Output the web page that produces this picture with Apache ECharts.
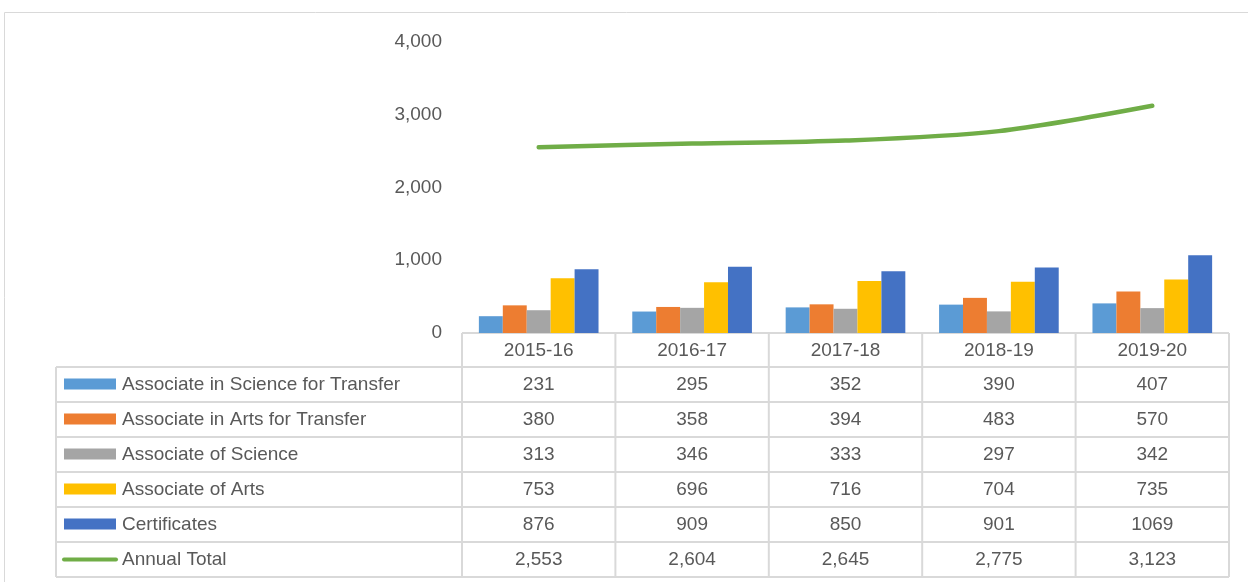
<!DOCTYPE html>
<html>
<head>
<meta charset="utf-8">
<script src="https://cdn.jsdelivr.net/npm/echarts@6/dist/echarts.min.js"></script>
<style>
  html, body { margin: 0; padding: 0; background: #fff; }
  #main { width: 1248px; height: 582px; }
</style>
</head>
<body>
<div id="main"></div>
<script>
// chart values
const years = ['2015-16', '2016-17', '2017-18', '2018-19', '2019-20'];
const sciTransfer = [231, 295, 352, 390, 407];
const artsTransfer = [380, 358, 394, 483, 570];
const assocScience = [313, 346, 333, 297, 342];
const assocArts = [753, 696, 716, 704, 735];
const certificates = [876, 909, 850, 901, 1069];
const annualTotal = [2553, 2604, 2645, 2775, 3123];
const yTicks = [0, 1000, 2000, 3000, 4000];

const seriesNames = [
  'Associate in Science for Transfer',
  'Associate in Arts for Transfer',
  'Associate of Science',
  'Associate of Arts',
  'Certificates',
  'Annual Total'
];
const colors = ['#5B9BD5', '#ED7D31', '#A5A5A5', '#FFC000', '#4472C4', '#70AD47'];
const barData = [sciTransfer, artsTransfer, assocScience, assocArts, certificates];

const FONT = 'Liberation Sans';
const FSIZE = 19;
const TXT = '#595959';
const LINE = '#D9D9D9';

const fmt = v => v.toLocaleString('en-US');

let myChart = echarts.init(document.getElementById('main'), null, { renderer: 'canvas' });

const series = barData.map((d, i) => ({
  name: seriesNames[i],
  type: 'bar',
  data: d,
  barGap: '0%',
  barCategoryGap: '22%',
  itemStyle: { color: colors[i] },
  animation: false
}));
series.push({
  name: seriesNames[5],
  type: 'line',
  data: annualTotal,
  smooth: 0.3,
  symbol: 'none',
  lineStyle: { color: colors[5], width: 4.5, cap: 'round' },
  z: 5,
  animation: false
});

let option = {
  animation: false,
  grid: { left: 462, right: 19, top: 42, bottom: 249, containLabel: false },
  xAxis: {
    type: 'category',
    data: years,
    axisLine: { show: false },
    axisTick: { show: false },
    axisLabel: { show: false },
    splitLine: { show: false }
  },
  yAxis: {
    type: 'value',
    min: yTicks[0],
    max: yTicks[yTicks.length - 1],
    interval: 1000,
    axisLine: { show: false },
    axisTick: { show: false },
    splitLine: { show: false },
    axisLabel: {
      margin: 20,
      color: TXT,
      fontFamily: FONT,
      fontSize: FSIZE,
      formatter: v => fmt(v)
    }
  },
  series: series
};
myChart.setOption(option);

// data table under the plot, placed with the chart's own scales
function buildTable() {
  const centers = years.map((y, i) => myChart.convertToPixel({ xAxisIndex: 0 }, i));
  const step = centers[1] - centers[0];
  const colEdges = [centers[0] - step / 2].concat(centers.map(c => c + step / 2));
  const y0 = myChart.convertToPixel({ yAxisIndex: 0 }, 0);
  const rowH = 35;
  const headH = 34;
  const tableLeft = 56;
  const left = colEdges[0];
  const right = colEdges[colEdges.length - 1];
  const rowTops = [y0 + headH];
  for (let r = 1; r <= seriesNames.length; r++) rowTops.push(y0 + headH + r * rowH);
  const bottom = rowTops[rowTops.length - 1];
  const font = FSIZE + 'px "' + FONT + '"';

  const g = [];
  // outer chart border
  g.push({ type: 'rect', shape: { x: 4.5, y: 12.5, width: 1300, height: 700 },
    style: { fill: 'none', stroke: '#D9D9D9', lineWidth: 1 }, silent: true });

  const ln = (x1, y1, x2, y2) => g.push({ type: 'line', shape: { x1, y1, x2, y2 },
    style: { stroke: LINE, lineWidth: 2 }, silent: true, z: 1 });

  // horizontal lines
  ln(left, y0, right, y0);
  rowTops.forEach(t => ln(tableLeft, t, right, t));
  // vertical lines
  ln(tableLeft, rowTops[0], tableLeft, bottom);
  colEdges.forEach(x => ln(x, y0, x, bottom));

  // header labels
  years.forEach((yr, i) => g.push({ type: 'text', x: centers[i], y: y0 + headH / 2 + 1,
    style: { text: yr, fill: TXT, font: font, align: 'center', verticalAlign: 'middle' } }));

  const allData = barData.concat([annualTotal]);
  seriesNames.forEach((name, r) => {
    const cy = rowTops[r] + rowH / 2;
    if (r < 5) {
      g.push({ type: 'rect', shape: { x: 64, y: cy - 6, width: 52, height: 11 },
        style: { fill: colors[r] } });
    } else {
      g.push({ type: 'line', shape: { x1: 64, y1: cy, x2: 116, y2: cy },
        style: { stroke: colors[r], lineWidth: 4, lineCap: 'round' } });
    }
    g.push({ type: 'text', x: 122, y: cy,
      style: { text: name, fill: TXT, font: font, align: 'left', verticalAlign: 'middle' } });
    allData[r].forEach((v, i) => {
      const s = r === 5 ? fmt(v) : String(v);
      g.push({ type: 'text', x: centers[i], y: cy,
        style: { text: s, fill: TXT, font: font, align: 'center', verticalAlign: 'middle' } });
    });
  });
  myChart.setOption({ graphic: { elements: g } });
}
buildTable();

window.onresize = function () {
  myChart.resize();
  buildTable();
};
</script>
</body>
</html>
